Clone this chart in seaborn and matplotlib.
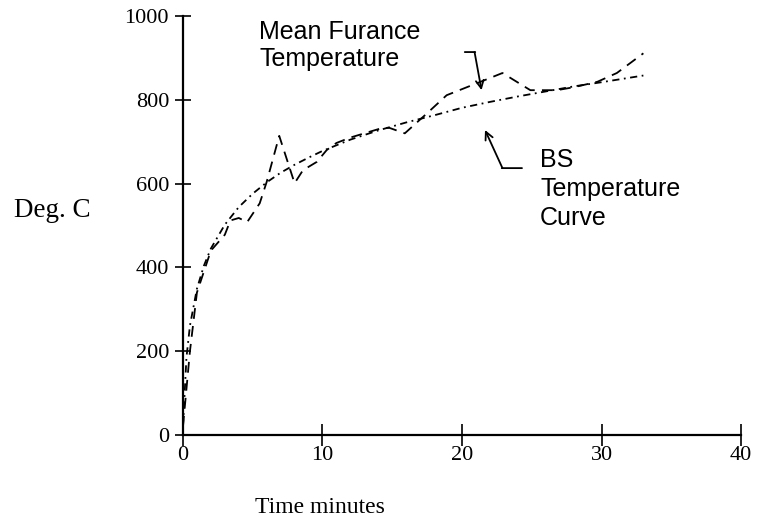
import pandas as pd
import matplotlib
matplotlib.use("Agg")
import matplotlib.pyplot as plt
import seaborn as sns

# mean furnace temperature (dashed)
furnace_time = [0, 0.5, 1, 2, 3, 3.4, 4, 4.6, 5.5, 6, 6.9, 8, 8.6, 9.6, 10.3, 11, 12, 13,
                14.3, 14.8, 15.9, 17.5, 18.9, 21.1, 22.9, 24.9, 26.8, 28, 29.7, 31.1, 33]
furnace_temp = [20, 200, 340, 440, 478, 512, 518, 508, 553, 604, 714, 601, 632, 652, 680, 697, 710, 720,
                733, 733, 720, 768, 811, 840, 864, 823, 823, 830, 843, 864, 911]

# BS standard temperature curve (dash-dot)
bs_time = [0, 0.25, 0.5, 1, 1.5, 2, 3, 4, 5, 6, 7, 8, 9, 10, 12, 14, 16, 18, 20, 22, 24, 26, 28, 30, 33]
bs_temp = [20, 185, 261, 349, 404, 445, 502, 544, 576, 603, 626, 645, 662, 678, 705, 727, 746, 763,
           781, 795, 808, 820, 832, 842, 858]

x_ticks = [0, 10, 20, 30, 40]
y_ticks = [0, 200, 400, 600, 800, 1000]

df = pd.concat([
    pd.DataFrame({"time": furnace_time, "temp": furnace_temp, "curve": "furnace"}),
    pd.DataFrame({"time": bs_time, "temp": bs_temp, "curve": "bs"}),
])

sns.set_style("ticks")
plt.rcParams["font.family"] = ["Liberation Serif", "DejaVu Serif"]
plt.rcParams["text.color"] = "black"
plt.rcParams["axes.labelcolor"] = "black"

fig = plt.figure(figsize=(7.57, 5.17), dpi=100)
ax = fig.add_axes([0.2417, 0.1586, 0.7372, 0.8104])

sns.lineplot(data=df, x="time", y="temp", style="curve", color="black",
             dashes={"furnace": (6, 4), "bs": (4, 2.5, 1, 2.5)},
             linewidth=1.3, legend=False, sort=False, ax=ax)

ax.set_xlim(0, 40)
ax.set_ylim(0, 1000)
ax.set_xticks(x_ticks)
ax.set_yticks(y_ticks)
ax.tick_params(axis="x", direction="inout", length=16, width=1.2, labelsize=16, pad=0, colors="black")
ax.tick_params(axis="y", direction="inout", length=12, width=1.2, labelsize=16, pad=4, colors="black")
sns.despine(ax=ax)
for s in ["left", "bottom"]:
    ax.spines[s].set_linewidth(1.6)
    ax.spines[s].set_color("black")

ax.set_xlabel("Time minutes", fontsize=17, color="black")
ax.xaxis.set_label_coords(0.2455, -0.148)
ax.set_ylabel("Deg. C", fontsize=19.5, rotation=0, va="center", color="black")
ax.yaxis.set_label_coords(-0.235, 0.537)

sans = ["Liberation Sans", "DejaVu Sans"]
ax.text(5.45, 990, "Mean Furance\nTemperature", family=sans, fontsize=18, ha="left", va="top",
        linespacing=1.15, color="black")
ax.text(25.6, 684, "BS\nTemperature\nCurve", family=sans, fontsize=18, ha="left", va="top",
        linespacing=1.25, color="black")

# arrow for the furnace label
ax.annotate("", xy=(20.95, 914), xytext=(20.2, 914),
            arrowprops=dict(arrowstyle="-", color="black", lw=1.3, shrinkA=0, shrinkB=0))
ax.annotate("", xy=(21.4, 823), xytext=(20.9, 914),
            arrowprops=dict(arrowstyle="->", color="black", lw=1.3, shrinkA=0, shrinkB=0,
                            mutation_scale=14))
# arrow for the BS label
ax.annotate("", xy=(24.3, 637), xytext=(22.85, 637),
            arrowprops=dict(arrowstyle="-", color="black", lw=1.3, shrinkA=0, shrinkB=0))
ax.annotate("", xy=(21.65, 728), xytext=(22.9, 637),
            arrowprops=dict(arrowstyle="->", color="black", lw=1.3, shrinkA=0, shrinkB=0,
                            mutation_scale=14))

fig.savefig("out.png", dpi=100)
